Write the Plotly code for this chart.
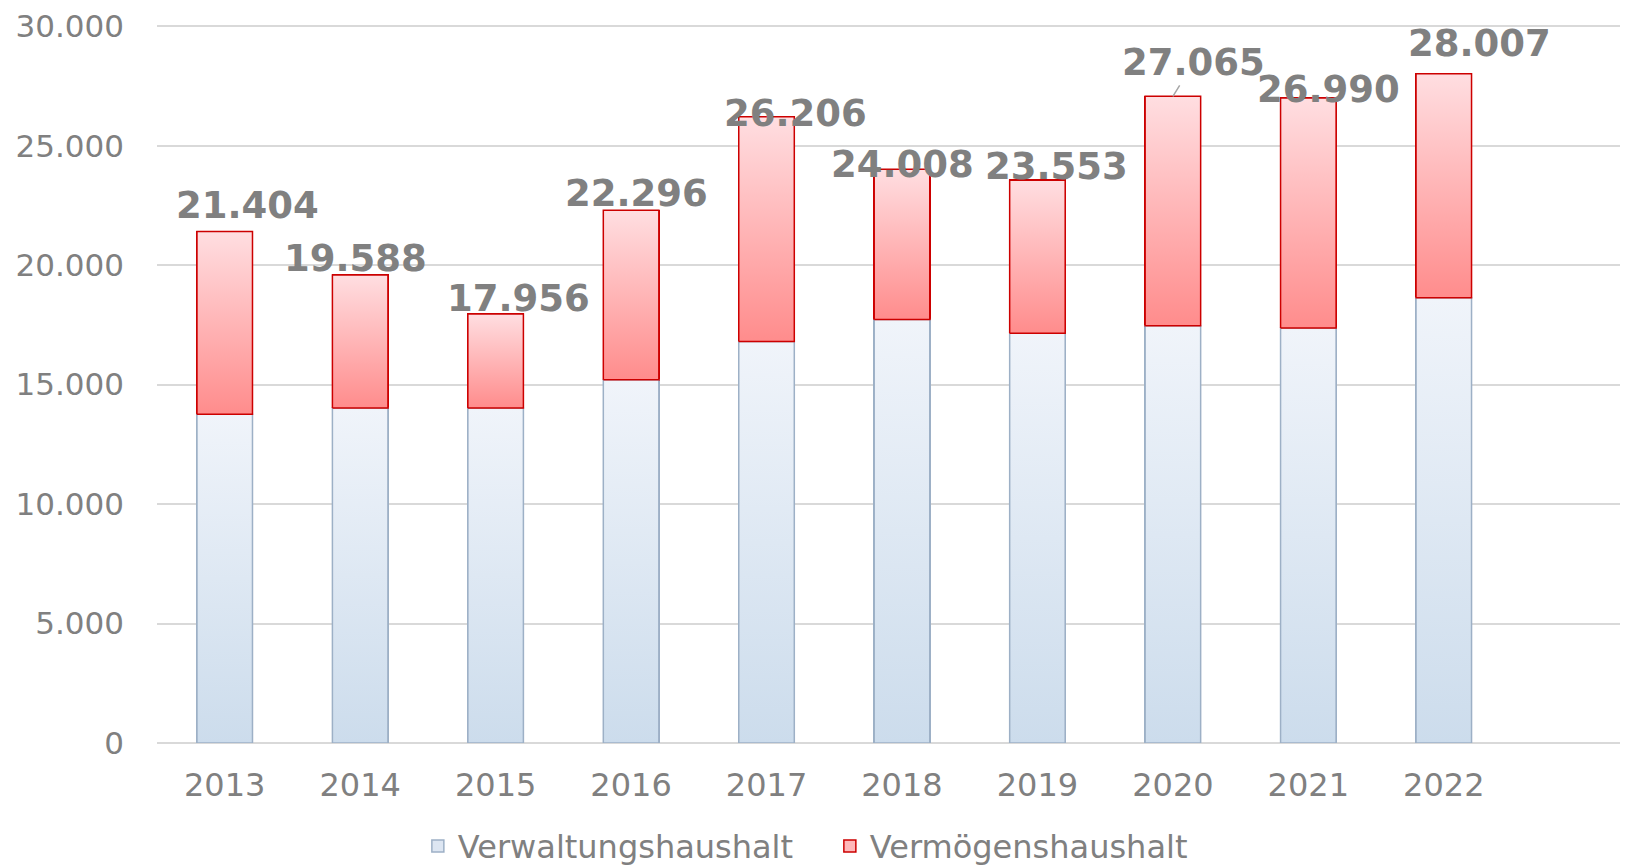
import plotly.graph_objects as go

years = ["2013", "2014", "2015", "2016", "2017", "2018", "2019", "2020", "2021", "2022"]
verwaltung = [13760, 14020, 14020, 15200, 16800, 17720, 17150, 17460, 17370, 18630]
totals = [21404, 19588, 17956, 22296, 26206, 24008, 23553, 27065, 26990, 28007]
vermoegen = [t - v for t, v in zip(totals, verwaltung)]
y_ticks = [0, 5000, 10000, 15000, 20000, 25000, 30000]

# label offsets (pixels) relative to bar top: (xshift, yshift)
label_offsets = [(23, 26), (-5, 16), (23, 15), (5, 17), (29, 3), (1, 5), (19, 14), (21, 34), (20, 9), (36, 30)]

FONT = "Verdana, DejaVu Sans, sans-serif"
GRAY = "#808080"
BW = 0.41
xs = list(range(len(years)))

fig = go.Figure()

fig.add_trace(go.Bar(x=xs, y=verwaltung, name="Verwaltungshaushalt", width=BW,
                     marker=dict(color="#DDE6F2", line=dict(color="#9DB0C6", width=1.5))))
fig.add_trace(go.Bar(x=xs, y=vermoegen, name="Vermögenshaushalt", width=BW,
                     marker=dict(color="#FFB8BA", line=dict(color="#CC0000", width=1.5))))

# gradient overlays
for i, (v, m) in enumerate(zip(verwaltung, vermoegen)):
    x0, x1 = i - BW / 2, i + BW / 2
    fig.add_trace(go.Scatter(x=[x0, x1, x1, x0, x0], y=[0, 0, v, v, 0], mode="lines",
                             fill="toself", line=dict(color="#9DB0C6", width=1.5),
                             fillgradient=dict(type="vertical",
                                               colorscale=[[0, "#CCDCEC"], [1, "#F0F4FA"]]),
                             showlegend=False, hoverinfo="skip"))
    fig.add_trace(go.Scatter(x=[x0, x1, x1, x0, x0], y=[v, v, v + m, v + m, v], mode="lines",
                             fill="toself", line=dict(color="#CC0000", width=1.5),
                             fillgradient=dict(type="vertical",
                                               colorscale=[[0, "#FF8C8C"], [1, "#FFDEE1"]]),
                             showlegend=False, hoverinfo="skip"))

for i, t in enumerate(totals):
    dx, dy = label_offsets[i]
    txt = "<b>" + f"{t:,}".replace(",", ".") + "</b>"
    if i == 7:
        fig.add_annotation(x=i, y=t, text=txt, showarrow=True, ax=dx, ay=-dy,
                           arrowhead=0, arrowcolor="#A6A6A6", arrowwidth=1.5,
                           font=dict(family=FONT, size=37, color=GRAY))
    else:
        fig.add_annotation(x=i, y=t, text=txt, showarrow=False, xshift=dx, yshift=dy,
                           yanchor="middle", font=dict(family=FONT, size=37, color=GRAY))

fig.update_layout(
    width=1620, height=857,
    barmode="stack",
    separators=",.",
    paper_bgcolor="white", plot_bgcolor="white",
    margin=dict(l=149, r=0, t=17, b=122, autoexpand=False),
    font=dict(family=FONT, color=GRAY, size=31),
    legend=dict(orientation="h", xref="container", x=0.253, xanchor="left",
                y=-0.1436, yanchor="middle", entrywidth=367,
                font=dict(size=32, color=GRAY), itemwidth=30, traceorder="normal"),
    xaxis=dict(tickvals=xs, ticktext=years, range=[-0.5, 10.36], showgrid=False,
               showline=False, zeroline=False, ticks="", ticklabelstandoff=20,
               automargin=False, tickfont=dict(size=32, color=GRAY)),
    yaxis=dict(range=[0, 30050], tickvals=y_ticks, tickformat=",d", showgrid=True,
               gridcolor="#D9D9D9", gridwidth=1.5, zeroline=True, zerolinecolor="#D9D9D9",
               zerolinewidth=1.5, showline=False, ticks="", ticklabelstandoff=32,
               ticklabeloverflow="allow",
               automargin=False, tickfont=dict(size=31, color=GRAY)),
)

fig.write_html("out.html")
